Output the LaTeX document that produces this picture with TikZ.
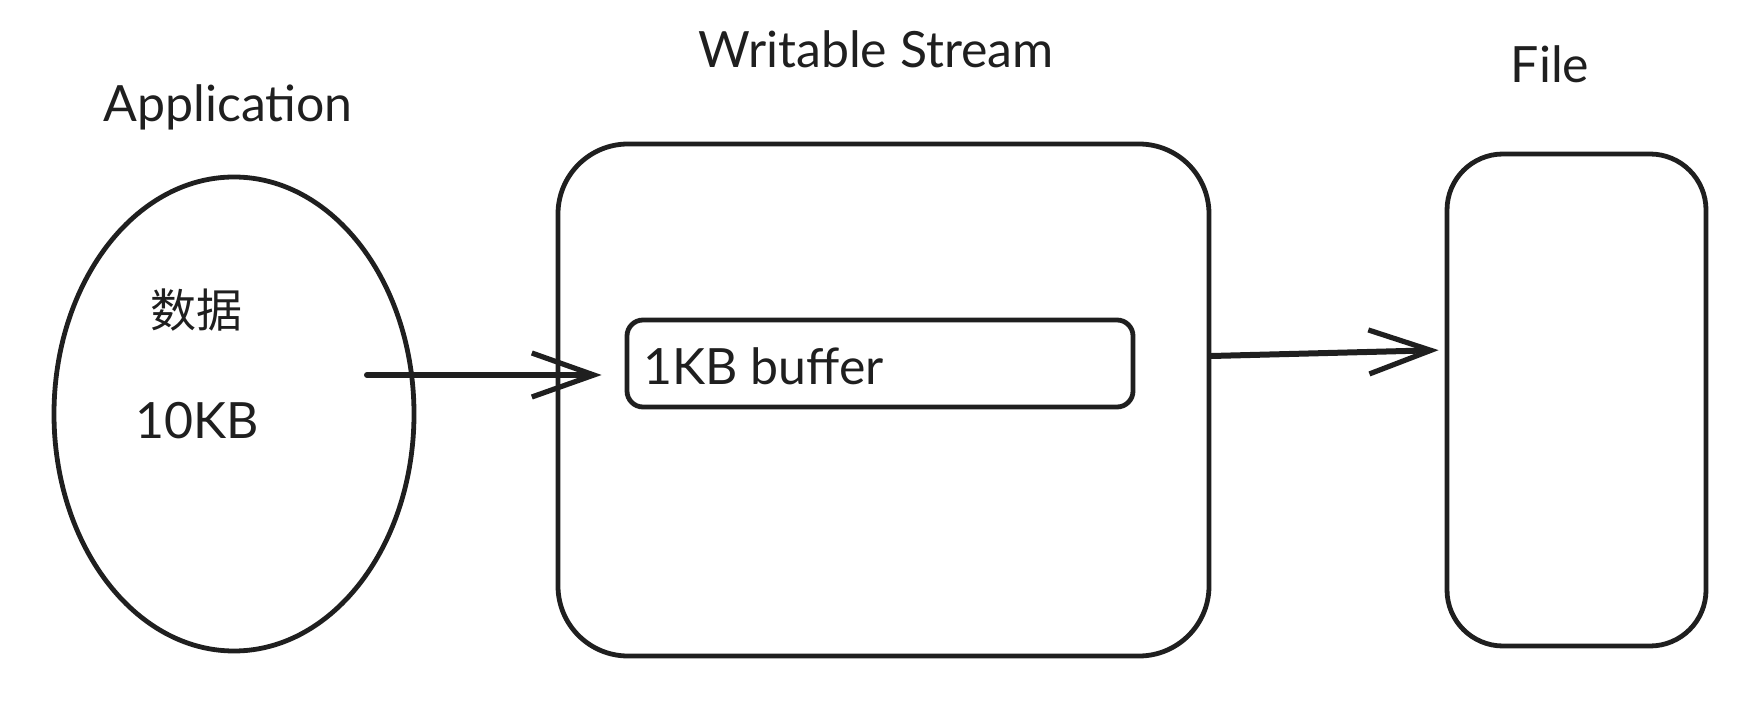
\documentclass[tikz,border=0pt]{standalone}
\usepackage{fontspec}
\setmainfont{Lato}
\newfontfamily\cjk{Noto Sans CJK SC}
\usetikzlibrary{shapes.geometric,arrows.meta}
\tikzset{
  shapeline/.style={draw=black!88, line width=2.4pt},
  boxshape/.style={shapeline, inner sep=0pt},
  lbl/.style={inner sep=0pt, font=\fontsize{25}{29}\selectfont, text=black!88},
  cjklbl/.style={inner sep=0pt, font=\cjk\fontsize{23}{27}\selectfont, text=black!88},
  conn/.style={draw=black!88, line width=3pt, line cap=round,
    -{Straight Barb[length=31pt, width=22pt, line width=2.6pt]}},
}
\begin{document}
\begin{tikzpicture}[x=0.5pt, y=-0.5pt]
\useasboundingbox (0,0) rectangle (1759,715);
% shapes
\node[boxshape, ellipse, minimum width=180pt, minimum height=237pt] (app) at (234,414) {};
\node[boxshape, rectangle, rounded corners=35pt, minimum width=325.5pt, minimum height=256pt] (ws) at (883.5,400) {};
\node[boxshape, rectangle, rounded corners=8pt, minimum width=253pt, minimum height=43.5pt] (buf) at (880,363.5) {};
\node[boxshape, rectangle, rounded corners=28pt, minimum width=129.5pt, minimum height=246pt] (file) at (1576.5,400) {};
% titles
\node[lbl, anchor=base] (tapp) at (228,122) {Application};
\node[lbl, anchor=base] (tws) at (876,68) {Writable Stream};
\node[lbl, anchor=base] (tfile) at (1550,83) {File};
% inner texts
\node[cjklbl] (data) at (196,310) {数据};
\node[lbl, anchor=base] (size) at (197,438) {10KB};
\node[lbl, anchor=base west] (buftxt) at (643,385) {1KB buffer};
% connectors
\coordinate (a1s) at (367,375);
\draw[conn, shorten >=11.5pt] (a1s) -- (a1s -| buf.west);
\draw[conn, shorten >=3pt] ([yshift=22pt]ws.east) -- ([yshift=25pt]file.west);
\end{tikzpicture}
\end{document}
